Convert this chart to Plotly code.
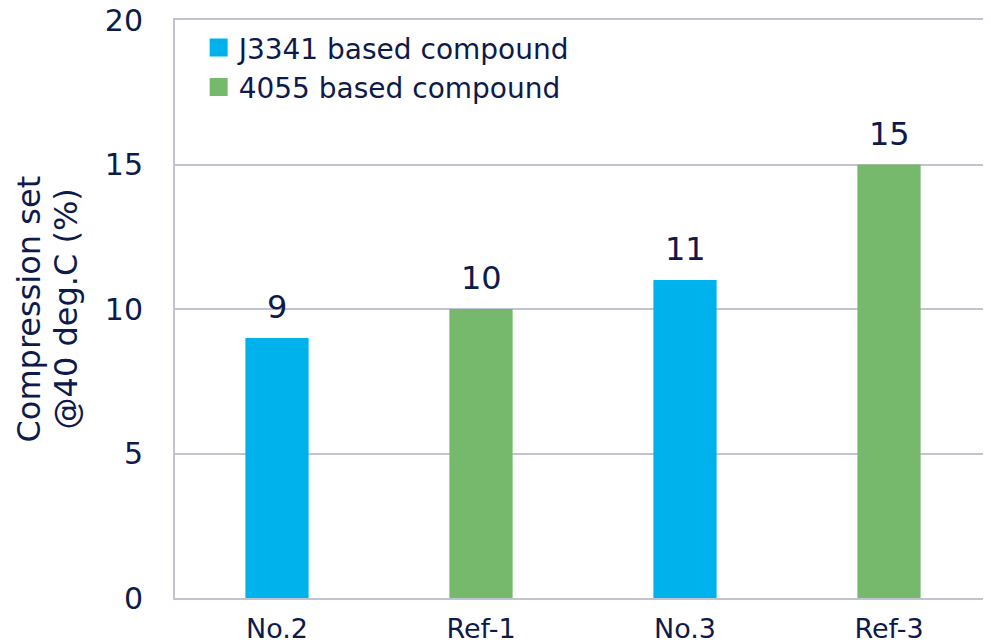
import plotly.graph_objects as go

categories = ["No.2", "Ref-1", "No.3", "Ref-3"]
j3341_x = ["No.2", "No.3"]
j3341_vals = [9, 11]
c4055_x = ["Ref-1", "Ref-3"]
c4055_vals = [10, 15]
series_names = ["J3341 based compound", "4055 based compound"]
y_ticks = [0, 5, 10, 15, 20]

NAVY = "#0e1a4a"
GRID = "#c0c4d0"
BLUE = "#00b2eb"
GREEN = "#77b96c"
FONT = "DejaVu Sans"

fig = go.Figure()
fig.add_trace(go.Bar(x=j3341_x, y=j3341_vals, name=series_names[0], showlegend=False,
                     marker=dict(color=BLUE, line=dict(width=0)), width=0.31))
fig.add_trace(go.Bar(x=c4055_x, y=c4055_vals, name=series_names[1], showlegend=False,
                     marker=dict(color=GREEN, line=dict(width=0)), width=0.31))
# legend entries (square swatches)
for nm, col in zip(series_names, [BLUE, GREEN]):
    fig.add_trace(go.Scatter(x=[None], y=[None], mode="markers", name=nm,
                             marker=dict(symbol="square", size=16, color=col,
                                         line=dict(color=col, width=2))))

for xs, vs in [(j3341_x, j3341_vals), (c4055_x, c4055_vals)]:
    for x, v in zip(xs, vs):
        fig.add_annotation(x=x, y=v, text=str(v), showarrow=False,
                           yanchor="bottom", yshift=10,
                           font=dict(size=32, color=NAVY, family=FONT))

fig.add_annotation(xref="paper", yref="paper", x=-0.1795, y=0.5,
                   text="Compression set", textangle=-90, showarrow=False,
                   xanchor="center", yanchor="middle",
                   font=dict(size=32, color=NAVY, family=FONT))
fig.add_annotation(xref="paper", yref="paper", x=-0.1330, y=0.5,
                   text="@40 deg.C (%)", textangle=-90, showarrow=False,
                   xanchor="center", yanchor="middle",
                   font=dict(size=32, color=NAVY, family=FONT))

# page body has an 8px margin: compensate so the plot area lands at x 175-991, y 20-590
fig.update_layout(
    width=983, height=636,
    margin=dict(l=167, r=0, t=12, b=46),
    paper_bgcolor="white", plot_bgcolor="white",
    barmode="overlay",
    font=dict(family=FONT, color=NAVY),
    showlegend=True,
    legend=dict(x=0.029, y=0.995, xanchor="left", yanchor="top",
                font=dict(size=28, color=NAVY, family=FONT),
                bgcolor="rgba(0,0,0,0)", tracegroupgap=0, itemsizing="trace"),
    xaxis=dict(categoryorder="array", categoryarray=categories,
               range=[-0.5, 3.5], showgrid=False, showline=True, mirror=True,
               linecolor=GRID, linewidth=2, ticks="", automargin=False,
               tickfont=dict(size=27, color=NAVY, family=FONT),
               ticklabelstandoff=6, ticklabeloverflow="allow"),
    yaxis=dict(range=[0, 20], tickvals=y_ticks, showgrid=True,
               gridcolor=GRID, gridwidth=1.5, showline=True,
               linecolor=GRID, linewidth=2, ticks="", zeroline=False,
               automargin=False, ticklabeloverflow="allow",
               tickfont=dict(size=30, color=NAVY, family=FONT),
               ticklabelstandoff=24),
)

fig.write_html("out.html")
